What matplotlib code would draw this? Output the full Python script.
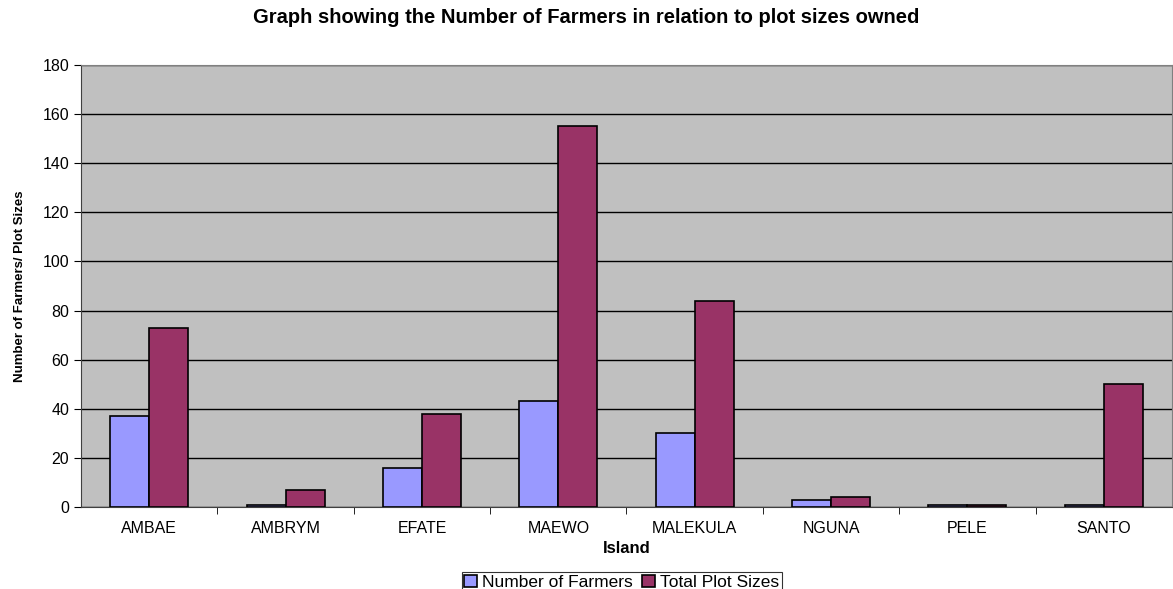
import numpy as np
import matplotlib.pyplot as plt

plt.rcParams['font.family'] = ['Liberation Sans', 'DejaVu Sans']

islands = ['AMBAE', 'AMBRYM', 'EFATE', 'MAEWO', 'MALEKULA', 'NGUNA', 'PELE', 'SANTO']
farmers = [37, 1, 16, 43, 30, 3, 1, 1]
plot_sizes = [73, 7, 38, 155, 84, 4, 1, 50]

fig = plt.figure(figsize=(11.73, 5.89), dpi=100)
ax = fig.add_axes([0.0691, 0.1392, 0.930, 0.7504])
ax.set_facecolor('#C0C0C0')

x = np.arange(len(islands))
w = 1 / 3.5
ax.bar(x - w / 2, farmers, w, color='#9999FF', edgecolor='black', linewidth=1.2,
       label='Number of Farmers', zorder=3)
ax.bar(x + w / 2, plot_sizes, w, color='#993366', edgecolor='black', linewidth=1.2,
       label='Total Plot Sizes', zorder=3)

ax.set_xlim(-0.5, len(islands) - 0.5)
ax.set_ylim(0, 180)
ax.set_yticks(range(0, 181, 20))
ax.yaxis.grid(True, color='black', linewidth=1, zorder=1)
ax.set_xticks(x)
ax.set_xticklabels(islands, fontsize=11.5)
ax.tick_params(axis='x', length=0, pad=10)
ax.set_xticks(np.arange(0.5, len(islands) - 0.5), minor=True)
ax.tick_params(axis='x', which='minor', length=5, direction='out', color='black')
ax.tick_params(axis='y', labelsize=11.5, length=5, color='black')

for side in ['top', 'right']:
    ax.spines[side].set_color('#808080')
for side in ['left', 'bottom']:
    ax.spines[side].set_color('#404040')

ax.set_xlabel('Island', fontsize=12, fontweight='bold', labelpad=4)
ax.set_ylabel('Number of Farmers/ Plot Sizes', fontsize=9.5, fontweight='bold', labelpad=12)
fig.text(0.5, 0.971, 'Graph showing the Number of Farmers in relation to plot sizes owned',
         ha='center', va='center', fontsize=14.5, fontweight='bold')

leg = fig.legend(loc='lower center', bbox_to_anchor=(0.53, -0.012), ncol=2, fontsize=12.5,
                 frameon=True, fancybox=False, edgecolor='black', handlelength=0.75,
                 handleheight=0.75, handletextpad=0.3, columnspacing=0.5,
                 borderpad=0.15, borderaxespad=0.2)
leg.get_frame().set_linewidth(0.8)

fig.savefig('out.png', dpi=100, facecolor='white')
